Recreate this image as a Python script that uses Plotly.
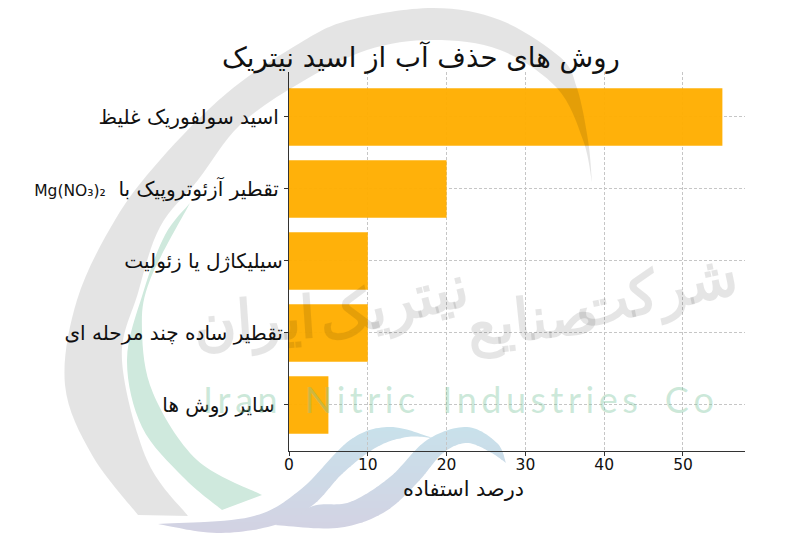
import plotly.graph_objects as go

# ---- chart data ----
methods = [
    "اسید سولفوریک غلیظ",
    "تقطیر آزئوتروپیک با Mg(NO₃)₂",
    "سیلیکاژل یا زئولیت",
    "تقطیر ساده چند مرحله ای",
    "سایر روش ها",
]
tick_labels = [
    "اسید سولفوریک غلیظ\u2009",
    "\u202bتقطیر آزئوتروپیک با \u00a0<span style='font-size:15.5px'>Mg(NO₃)₂</span>\u202c\u2009",
    "سیلیکاژل یا زئولیت",
    "تقطیر ساده چند مرحله ای",
    "سایر روش ها\u2009\u2009",
]
usage_percent = [55, 20, 10, 10, 5]
x_ticks = [0, 10, 20, 30, 40, 50]
title_text = "روش های حذف آب از اسید نیتریک"
x_title = "درصد استفاده"

FONT = "DejaVu Sans"
# page has an 8px body margin, so the figure is 16px smaller than the window
W, H = 784, 526
OFF = 8
LEFT, RIGHT, TOP, BOTTOM = 289, 745, 72, 451  # plot box in window pixels

# ---- decorative watermark outlines (pixel positions in the window) ----
gray_outer = [(138,515),(92,455),(65,385),(77,300),(115,220),(160,160),(227,93),(300,43),(350,20),(433,8),(500,20),(560,57),(577,88),(588,140),(592,182)]
gray_inner = [(592,182),(583,140),(557,88),(500,50),(433,40),(367,50),(300,83),(240,125),(198,180),(160,227),(138,293),(122,360),(147,460),(188,516)]
green_outer = [(190,203),(165,235),(143,293),(127,360),(142,427),(183,477),(222,510)]
green_inner = [(262,495),(197,460),(153,393),(142,330),(150,280),(190,203)]
wave1_upper = [(158,524),(250,517),(300,490),(350,440),(390,427),(433,438)]
wave1_lower = [(433,438),(407,437),(377,447),(343,473),(313,505),(275,525),(217,533),(158,524)]
wave2_upper = [(275,525),(313,506),(350,502),(390,477),(427,440),(467,427),(497,443),(506,463)]
wave2_lower = [(506,463),(490,452),(467,443),(443,453),(417,483),(383,513),(337,528),(275,525)]
wave_top_rgb = (200, 225, 235)
wave_bottom_rgb = (212, 209, 226)


def px(p):
    return (p[0] - LEFT) / (RIGHT - LEFT), (BOTTOM - p[1]) / (BOTTOM - TOP)


def curve(points):
    pts = [px(p) for p in points]
    out = ""
    for i in range(len(pts) - 1):
        p0 = pts[max(i - 1, 0)]
        p1, p2 = pts[i], pts[i + 1]
        p3 = pts[min(i + 2, len(pts) - 1)]
        c1 = (p1[0] + (p2[0] - p0[0]) / 6, p1[1] + (p2[1] - p0[1]) / 6)
        c2 = (p2[0] - (p3[0] - p1[0]) / 6, p2[1] - (p3[1] - p1[1]) / 6)
        out += f" C {c1[0]:.5f} {c1[1]:.5f} {c2[0]:.5f} {c2[1]:.5f} {p2[0]:.5f} {p2[1]:.5f}"
    return out


def blob(a, b):
    s = px(a[0])
    e = px(b[0])
    return f"M {s[0]:.5f} {s[1]:.5f}" + curve(a) + f" L {e[0]:.5f} {e[1]:.5f}" + curve(b) + " Z"


def shape(path, fill, layer):
    return dict(type="path", xref="paper", yref="paper", path=path,
                fillcolor=fill, line_width=0, layer=layer)


def sampled(points, n=14):
    """Outline of a smooth run, in window pixels, for slicing into colour bands."""
    out = []
    for i in range(len(points) - 1):
        p0 = points[max(i - 1, 0)]
        p1, p2 = points[i], points[i + 1]
        p3 = points[min(i + 2, len(points) - 1)]
        for k in range(n):
            t = k / n
            out.append(tuple(
                0.5 * (2 * p1[d] + (p2[d] - p0[d]) * t
                       + (2 * p0[d] - 5 * p1[d] + 4 * p2[d] - p3[d]) * t * t
                       + (3 * p1[d] - p0[d] - 3 * p2[d] + p3[d]) * t ** 3)
                for d in (0, 1)))
    return out


def clip(poly, y0, keep_below):
    res = []
    inside = (lambda p: p[1] >= y0) if keep_below else (lambda p: p[1] <= y0)
    for i, a in enumerate(poly):
        b = poly[(i + 1) % len(poly)]
        if inside(a):
            res.append(a)
        if inside(a) != inside(b):
            t = (y0 - a[1]) / (b[1] - a[1])
            res.append((a[0] + t * (b[0] - a[0]), y0))
    return res


def gradient_bands(upper, lower, y_start=424, y_end=536, step=7):
    poly = sampled(upper) + sampled(lower)
    bands = []
    y = y_start
    while y < y_end:
        piece = clip(clip(poly, y, True), y + step + 0.6, False)
        if len(piece) > 2:
            t = (y - y_start) / (y_end - y_start)
            rgb = [round(a + (b - a) * t) for a, b in zip(wave_top_rgb, wave_bottom_rgb)]
            pts = [px(p) for p in piece]
            path = "M " + " L ".join(f"{a:.5f} {b:.5f}" for a, b in pts) + " Z"
            bands.append(shape(path, f"rgb({rgb[0]},{rgb[1]},{rgb[2]})", "below"))
        y += step
    return bands


shapes = [shape(blob(green_outer, green_inner), "#cfe9dd", "below")]
shapes += gradient_bands(wave2_upper, wave2_lower)
shapes += gradient_bands(wave1_upper, wave1_lower)
shapes.append(shape(blob(gray_outer, gray_inner), "rgba(0,0,0,0.105)", "above"))

fig = go.Figure(go.Bar(
    y=methods, x=usage_percent, orientation="h", width=0.8,
    marker=dict(color="#FFAE00", opacity=0.96, line_width=0),
))

watermark_words = [
    ("ایران", 254, 318, -4),
    ("نیتریک", 392, 300, -14),
    ("صنایع", 532, 316, -6),
    ("شرکت", 655, 288, -12),
]
annotations = []
for t, x, y, a in watermark_words:
    xp, yp = px((x, y))
    annotations.append(dict(text=t, x=xp, y=yp, xref="paper", yref="paper", showarrow=False,
                            xanchor="center", yanchor="middle", textangle=a,
                            font=dict(family="Noto Sans", size=58, weight=700,
                                      color="rgba(0,0,0,0.10)")))
xp, yp = px((458, 399))
annotations.append(dict(
    text="I\u2009r\u2009a\u2009n\u2003N\u2009i\u2009t\u2009r\u2009i\u2009c\u2003I\u2009n\u2009d\u2009u\u2009s\u2009t\u2009r\u2009i\u2009e\u2009s\u2003C\u2009o",
    x=xp, y=yp, xref="paper", yref="paper", showarrow=False,
    xanchor="center", yanchor="middle",
    font=dict(family="Lato", size=36, weight=400, color="rgba(120,195,155,0.38)"),
))
xp, yp = px((463, 489))
annotations.append(dict(
    text=x_title, x=xp, y=yp, xref="paper", yref="paper", showarrow=False,
    xanchor="center", yanchor="middle", font=dict(family=FONT, size=20.8, color="#111"),
))

fig.update_layout(
    width=W, height=H, autosize=False,
    margin=dict(l=LEFT - OFF, r=W + OFF - RIGHT, t=TOP - OFF, b=H + OFF - BOTTOM),
    paper_bgcolor="white", plot_bgcolor="rgba(0,0,0,0)",
    showlegend=False, shapes=shapes, annotations=annotations,
    font=dict(family=FONT, color="#111"),
    title=dict(text=title_text, x=(421 - OFF) / W, xanchor="center",
               y=1 - (57 - OFF) / H, yanchor="middle",
               font=dict(family=FONT, size=27.6, color="#111")),
    xaxis=dict(
        range=[0, 57.87], tickmode="array", tickvals=x_ticks, ticks="outside", ticklen=4,
        tickwidth=1, tickcolor="#333", showline=True, linecolor="#333", linewidth=1.3,
        showgrid=True, gridcolor="#c6c6c6", griddash="3px,2px", gridwidth=1, zeroline=False,
        tickfont=dict(size=15.5), ticklabelstandoff=-5,
    ),
    yaxis=dict(
        type="category", categoryorder="array", categoryarray=methods, range=[4.64, -0.625],
        tickmode="array", tickvals=methods, ticktext=tick_labels,
        ticks="outside", ticklen=4, tickwidth=1, tickcolor="#333", showline=True,
        linecolor="#333", linewidth=1.3, showgrid=True, gridcolor="#c6c6c6",
        griddash="3px,2px", gridwidth=1, zeroline=False, tickfont=dict(size=20),
        ticklabelstandoff=-3,
    ),
)
fig.write_html("out.html")
